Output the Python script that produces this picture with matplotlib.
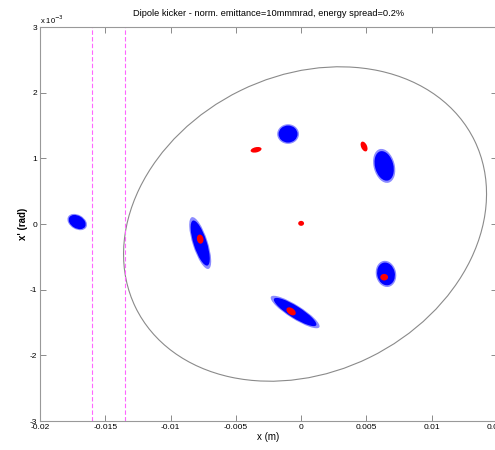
import matplotlib
matplotlib.use('Agg')
import matplotlib.pyplot as plt
from matplotlib.patches import Ellipse
from matplotlib.transforms import Affine2D

plt.rcParams['font.family'] = ['Liberation Sans', 'DejaVu Sans']

# Einheiten fuer die Formen: x in mm, x' in 0.2 mrad (optisch gleich skaliert)
UX, UY = 1e-3, 2e-4

# Akzeptanz-Ellipse (Mittelpunkt in m / rad, Achsen + Winkel in Einheiten)
acc_x, acc_y = 0.0003, 0.0
acc_w, acc_h, acc_ang = 28.9, 22.6, 26

# Blaue Teilchenwolken
blue_x = [-0.01715, -0.0010, 0.00636, -0.00773, 0.0065, -0.00046]
blue_y = [0.00003, 0.00137, 0.000885, -0.00029, -0.00076, -0.00134]
blue_w = [1.4, 1.45, 2.3, 3.6, 1.75, 3.8]
blue_h = [0.95, 1.3, 1.4, 1.0, 1.35, 0.9]
blue_ang = [-30, 0, -75, -72, -78, -32]

# Rote Teilchenwolken (kleine Energieabweichung)
red_x = [-0.00345, 0.00482, 0.0, -0.00773, 0.00636, -0.00077]
red_y = [0.00113, 0.00118, 0.00001, -0.00023, -0.00081, -0.00133]
red_w = [0.85, 0.8, 0.45, 0.7, 0.6, 0.8]
red_h = [0.4, 0.45, 0.38, 0.5, 0.5, 0.5]
red_ang = [12, -65, 0, -80, 0, -35]

# Septum-Linien
septum_x = [-0.016, -0.01348]

xticks = [-0.02, -0.015, -0.01, -0.005, 0, 0.005, 0.01, 0.015]
xticklabels = ['-0.02', '-0.015', '-0.01', '-0.005', '0', '0.005', '0.01', '0.015']
yticks = [-3e-3, -2e-3, -1e-3, 0, 1e-3, 2e-3, 3e-3]
yticklabels = ['-3', '-2', '-1', '0', '1', '2', '3']

fig = plt.figure(figsize=(4.95, 4.5), dpi=100)
ax = fig.add_axes([0.0808, 0.0644, 0.9232, 0.8756])
ax.set_xlim(-0.02, 0.015)
ax.set_ylim(-3e-3, 3e-3)

shape_tr = Affine2D().scale(UX, UY) + ax.transData

ax.add_patch(Ellipse((acc_x / UX, acc_y / UY), acc_w, acc_h, angle=acc_ang,
                     fill=False, edgecolor='#8a8a8a', linewidth=0.8,
                     transform=shape_tr))

for x, y, w, h, a in zip(blue_x, blue_y, blue_w, blue_h, blue_ang):
    # weicher Rand
    ax.add_patch(Ellipse((x / UX, y / UY), w * 1.15, h * 1.15, angle=a,
                         facecolor='#0000ff', edgecolor='none', alpha=0.45,
                         transform=shape_tr))
    ax.add_patch(Ellipse((x / UX, y / UY), w, h, angle=a,
                         facecolor='#0000ff', edgecolor='none',
                         transform=shape_tr))

for x, y, w, h, a in zip(red_x, red_y, red_w, red_h, red_ang):
    ax.add_patch(Ellipse((x / UX, y / UY), w, h, angle=a,
                         facecolor='#ff0000', edgecolor='none',
                         transform=shape_tr))

for sx in septum_x:
    ax.axvline(sx, color='#ff66ff', linestyle='--', linewidth=0.8,
               dashes=(4, 2), snap=True)

ax.set_xticks(xticks)
ax.set_xticklabels(xticklabels)
ax.set_yticks(yticks)
ax.set_yticklabels(yticklabels)
ax.tick_params(direction='in', length=4, width=0.6, color='#777777',
               labelsize=6, top=True, right=True, pad=2)
for sp in ax.spines.values():
    sp.set_color('#999999')
    sp.set_linewidth(0.8)

ax.text(0.0, 1.003, r'x 10$^{-3}$', transform=ax.transAxes, fontsize=5.5,
        ha='left', va='bottom')

ax.set_xlabel('x (m)', fontsize=7, labelpad=1)
ax.set_ylabel("x' (rad)", fontsize=7, fontweight='bold', labelpad=1)
ax.set_title('Dipole kicker - norm. emittance=10mmmrad, energy spread=0.2%',
             fontsize=6.7, pad=8)

fig.savefig('out.png', dpi=100)
